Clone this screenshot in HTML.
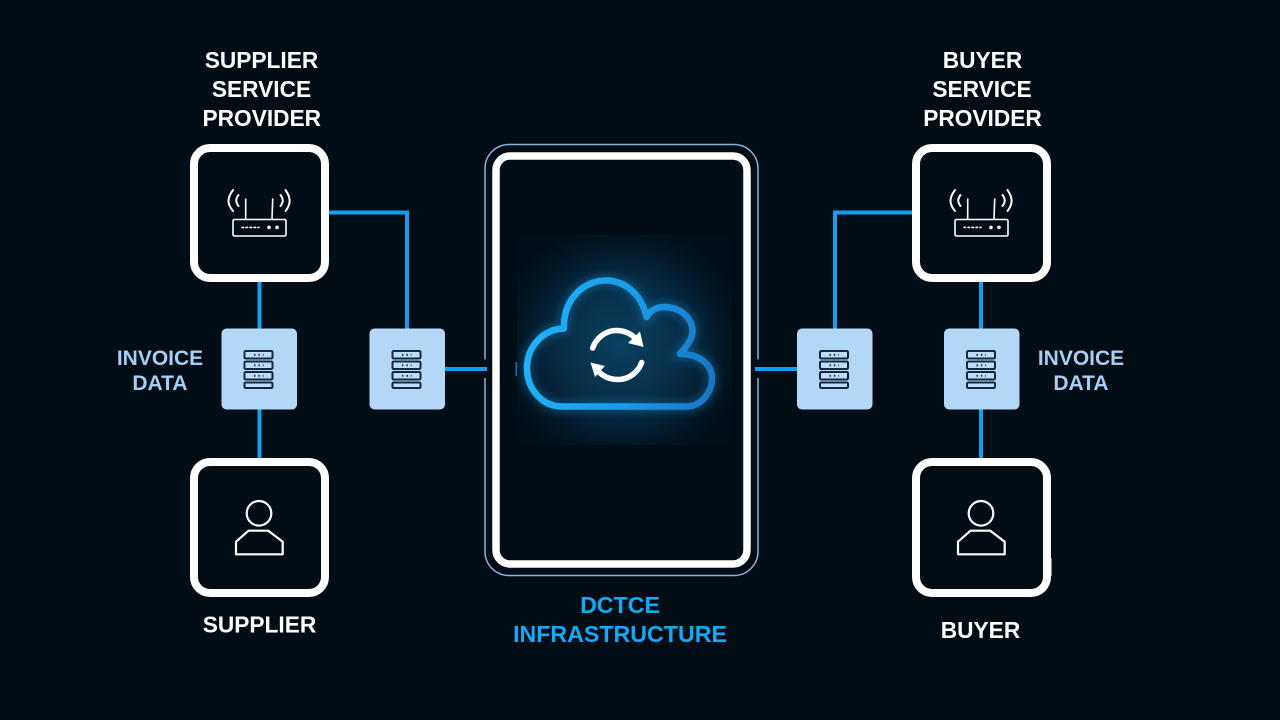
<!DOCTYPE html>
<html><head><meta charset="utf-8"><style>
html,body{margin:0;padding:0;background:#020d16;width:1280px;height:720px;overflow:hidden}
svg{display:block}
text{font-family:"Liberation Sans",sans-serif;font-weight:700;text-anchor:middle}
</style></head><body>
<svg width="1280" height="720" viewBox="0 0 1280 720" xmlns="http://www.w3.org/2000/svg">
<defs>
<radialGradient id="glow" gradientUnits="userSpaceOnUse" cx="622" cy="345" r="125">
<stop offset="0" stop-color="#0a4262"/><stop offset=".5" stop-color="#072c45"/><stop offset=".82" stop-color="#031725"/><stop offset="1" stop-color="#020f1a"/>
</radialGradient>
<linearGradient id="cl" gradientUnits="userSpaceOnUse" x1="527" y1="340" x2="712" y2="360">
<stop offset="0" stop-color="#1eb2fa"/><stop offset=".55" stop-color="#1a9be8"/><stop offset="1" stop-color="#1a76c4"/>
</linearGradient>
<filter id="blur" x="-20%" y="-20%" width="140%" height="140%"><feGaussianBlur stdDeviation="5"/></filter>
<g id="router" fill="none" stroke="#fff" stroke-width="1.600" stroke-linecap="round">
<rect x="233" y="219.500" width="53" height="16.500" rx="1.500"/>
<path d="M245.700 219V199M272 219L272.700 199"/>
<path d="M233 190C227 198 227 204 233 211M238.500 195C235.500 199 235.500 202 238.500 206M285.500 190C291 198 291 204 285.500 211M280.500 195C283.500 199 283.500 202 280.500 206" stroke-width="2"/>
<path d="M242 227.400H259" stroke-dasharray="1.600 2.400"/>
<circle cx="269" cy="227.400" r="1" fill="#fff"/><circle cx="277" cy="227.400" r="1" fill="#fff"/>
</g>
<g id="person" fill="none" stroke="#fff" stroke-width="2.200">
<circle cx="259" cy="513.300" r="12.300"/>
<path d="M236 554.300H282.700V541.700L268.300 530.700H248.500L236 541.700Z" stroke-linejoin="round"/>
</g>
<g id="server">
<rect x="0" y="0" width="75.500" height="81" rx="5" fill="#b3d7f7"/>
<g fill="#bcdcf8" stroke="#14293f" stroke-width="2">
<rect x="23" y="22.500" width="28" height="7.500" rx="1.200"/>
<rect x="23" y="33" width="28" height="7.500" rx="1.200"/>
<rect x="23" y="43.500" width="28" height="7.500" rx="1.200"/>
<rect x="23" y="54" width="28" height="5.500" rx="1.200"/>
</g>
<g stroke="#14293f" stroke-width="1.800" stroke-dasharray="1.400 3" fill="none">
<path d="M32.500 26.300H42M32.500 36.800H42M32.500 47.300H42"/>
</g>
</g>
</defs>
<rect width="1280" height="720" fill="#020d16"/>

<g fill="none" stroke="#139ff0" stroke-width="4">
<path d="M259.500 282V329M259.500 409V458"/>
<path d="M329 212.500H407V329"/>
<path d="M981 282V329M981 409V458"/>
<path d="M912 212.500H835V329"/>
</g>

<g fill="none" stroke="#fff" stroke-width="8">
<rect x="194" y="148" width="131" height="130" rx="16"/>
<rect x="194" y="462" width="131" height="131" rx="16"/>
<rect x="916" y="148" width="131" height="130" rx="16"/>
<rect x="916" y="462" width="131" height="131" rx="16"/>
</g>
<rect x="1044" y="558" width="7.500" height="18" fill="#fff"/>

<rect x="485" y="144.500" width="273" height="431" rx="24" fill="none" stroke="#86b4dc" stroke-width="1.500"/>
<rect x="483" y="359.500" width="4" height="18.500" fill="#020d16"/>
<rect x="756" y="359.500" width="4" height="18.500" fill="#020d16"/>
<path d="M445 369H487M755 369H797" stroke="#139ff0" stroke-width="4"/>
<rect x="496" y="156" width="251" height="408" rx="14" fill="#020d16" stroke="#fff" stroke-width="7.500"/>

<rect x="517" y="235" width="215" height="210" fill="url(#glow)"/>
<rect x="515.500" y="362" width="1.500" height="14" fill="#1c9ce0" opacity=".7"/>
<path d="M562 406.500H686C701 406.500 712 393 712 378C712 364 699 354 680 354C689 344 693 337 692.500 329C691 317 680 307 664 307C656 307 650 311 646.500 317C642 295 625 280.500 606 280.500C583 280.500 563 300 564 328.500C543 329 527 347 527 368C527 390 543 406.500 562 406.500Z" fill="none" stroke="#1a9be8" stroke-width="8" opacity=".45" filter="url(#blur)"/>
<path d="M562 406.500H686C701 406.500 712 393 712 378C712 364 699 354 680 354C689 344 693 337 692.500 329C691 317 680 307 664 307C656 307 650 311 646.500 317C642 295 625 280.500 606 280.500C583 280.500 563 300 564 328.500C543 329 527 347 527 368C527 390 543 406.500 562 406.500Z" fill="none" stroke="url(#cl)" stroke-width="6.500" stroke-linejoin="round"/>
<g fill="none" stroke="#fff" stroke-width="5.500" stroke-linecap="round">
<path d="M592.700 348C596 338 606 330.500 616 330.500C624 330.500 630 333 635 338"/>
<path d="M641.700 362.500C638 373 628 379.500 618 379.500C610 379.500 604 377 599 372"/>
</g>
<path d="M643.500 347L628 343L640 331.500Z" fill="#fff"/>
<path d="M590.500 362.500L605 366L595 377Z" fill="#fff"/>

<use href="#server" x="221.500" y="328.500"/>
<use href="#server" x="369.500" y="328.500"/>
<use href="#server" x="797" y="328.500"/>
<use href="#server" x="944" y="328.500"/>

<use href="#router"/>
<use href="#router" x="722"/>
<use href="#person"/>
<use href="#person" x="722"/>

<g fill="#fff" font-size="22.700">
<text x="261.500" y="68">SUPPLIER</text>
<text x="261.500" y="97">SERVICE</text>
<text x="261.800" y="126">PROVIDER</text>
<text x="982.500" y="68">BUYER</text>
<text x="982" y="97">SERVICE</text>
<text x="982.500" y="126">PROVIDER</text>
<text x="259.500" y="632.500">SUPPLIER</text>
<text x="980.500" y="638">BUYER</text>
</g>
<g fill="#a6cdf3" font-size="21">
<text x="160" y="365">INVOICE</text>
<text x="160" y="390">DATA</text>
<text x="1081" y="365">INVOICE</text>
<text x="1081" y="390">DATA</text>
</g>
<g fill="#12a9f5" font-size="23.200">
<text x="620" y="613">DCTCE</text>
<text x="620" y="642">INFRASTRUCTURE</text>
</g>
</svg>
</body></html>
